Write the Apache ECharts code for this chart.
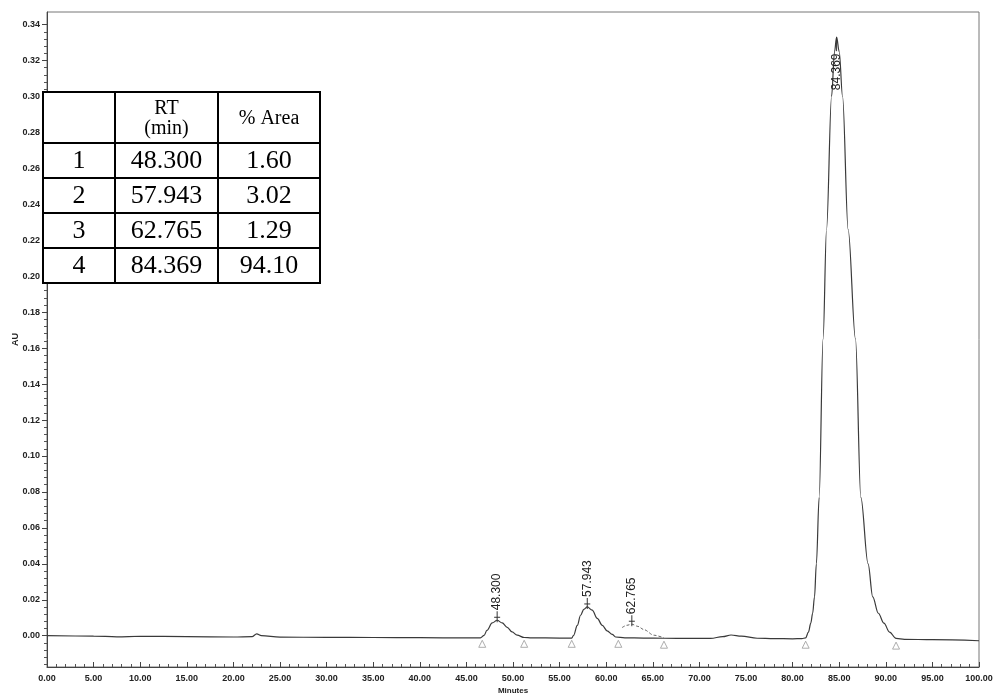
<!DOCTYPE html>
<html>
<head>
<meta charset="utf-8">
<script src="https://cdn.jsdelivr.net/npm/echarts@6/dist/echarts.min.js"></script>
<style>
  html, body { margin: 0; padding: 0; background: #fff; }
  #chart { width: 994px; height: 697px; }
</style>
</head>
<body>
<div id="chart"></div>
<script>
// ---- data ----
var traceMinutes = [0, 5, 7.5, 10, 15, 20, 22, 22.5, 23, 25, 30, 35, 40, 45, 46.5,
  46.9, 47.2, 47.77, 48.3, 48.84, 49.38, 49.9, 50.45, 51.2, 52, 55, 56.3,
  56.5, 56.9, 57.25, 57.6, 57.97, 58.5, 59.04, 59.58, 60.1, 60.65, 61.0, 62, 64, 66.2,
  69, 71.2, 72.5, 73.4, 74.5, 76.2, 78, 80, 81.0, 81.4,
  81.7, 81.95, 82.15, 82.35, 82.55, 82.85, 83.27, 83.64, 84.18, 84.5, 84.72, 85.0, 85.36,
  85.96, 86.75, 87.32, 88.1, 88.6, 89.2, 89.8, 90.4, 91.1, 92, 95, 100];
var traceAU = [0.0000, -0.0002, -0.0006, -0.0003, -0.0005, -0.0007, -0.0005, 0.0010, 0.0000, -0.0008, -0.0009, -0.0010, -0.0011, -0.0012, -0.0012,
  0.0002, 0.0030, 0.0071, 0.0086, 0.0071, 0.0046, 0.0021, 0.0003, -0.0010, -0.0012, -0.0013, -0.0013,
  0.0002, 0.0058, 0.0114, 0.0147, 0.0160, 0.0142, 0.0096, 0.0058, 0.0027, 0.0007, -0.0007, -0.0012, -0.0013, -0.0014,
  -0.0015, -0.0015, -0.0005, 0.0004, -0.0002, -0.0014, -0.0016, -0.0017, -0.0016, -0.0012,
  0.0020, 0.0070, 0.0125, 0.0216, 0.0400, 0.0770, 0.1650, 0.2260, 0.3000, 0.3250, 0.3330, 0.3250, 0.3000,
  0.2260, 0.1650, 0.0770, 0.0400, 0.0216, 0.0125, 0.0070, 0.0020, -0.0015, -0.0020, -0.0022, -0.0028];

// third peak, drawn dashed in the reference
var peak3Minutes = [61.7, 62.2, 62.75, 63.4, 64.05, 65.1, 66.2];
var peak3AU = [0.0045, 0.0058, 0.0064, 0.0052, 0.0034, 0.0003, -0.0012];

// integration event markers
var eventMinutes = [46.7, 51.2, 56.3, 61.3, 66.2, 81.4, 91.1];
var eventAU = [-0.0045, -0.0045, -0.0045, -0.0045, -0.0050, -0.0050, -0.0055];

// peak labels (apex positions and retention time text)
var labelMinutes = [48.3, 57.97, 62.75, 84.72];
var labelAU = [0.0086, 0.0160, 0.0064, 0.3330];
var peakNo = ['1', '2', '3', '4'];
var peakRT = ['48.300', '57.943', '62.765', '84.369'];
var peakArea = ['1.60', '3.02', '1.29', '94.10'];
var tableHeader = ['', 'RT\n(min)', '% Area'];

var yTickValues = [0, 0.02, 0.04, 0.06, 0.08, 0.10, 0.12, 0.14, 0.16, 0.18, 0.20, 0.22, 0.24, 0.26, 0.28, 0.30, 0.32, 0.34];
var yMin = -0.0174, yMax = 0.347;

// ---- build ----
function zip(a, b) { return a.map(function (v, i) { return [v, b[i]]; }); }

var yMinorTicks = [];
for (var k = 0; k < 90; k++) {
  var v = Math.round((-0.016 + k * 0.004) * 10000) / 10000;
  if (v >= yMin && v <= yMax && yTickValues.indexOf(v) < 0) yMinorTicks.push(v);
}

var chart = echarts.init(document.getElementById('chart'), null, { renderer: 'canvas' });

var labelFont = '"Liberation Sans", Arial, sans-serif';
var tableFont = '"Liberation Serif", "Times New Roman", serif';

// table graphic
var tbl = { colX: [43, 115, 218, 320], rowY: [92, 143, 178, 213, 248, 283] };
var graphics = [];
graphics.push({ type: 'rect', z: 100, shape: { x: tbl.colX[0], y: tbl.rowY[0], width: tbl.colX[3] - tbl.colX[0], height: tbl.rowY[5] - tbl.rowY[0] },
  style: { fill: '#fff', stroke: '#000', lineWidth: 2 } });
for (var c = 1; c < 3; c++) {
  graphics.push({ type: 'line', z: 101, shape: { x1: tbl.colX[c], y1: tbl.rowY[0], x2: tbl.colX[c], y2: tbl.rowY[5] }, style: { stroke: '#000', lineWidth: 2 } });
}
for (var r = 1; r < 5; r++) {
  graphics.push({ type: 'line', z: 101, shape: { x1: tbl.colX[0], y1: tbl.rowY[r], x2: tbl.colX[3], y2: tbl.rowY[r] }, style: { stroke: '#000', lineWidth: 2 } });
}
for (var c2 = 0; c2 < 3; c2++) {
  graphics.push({ type: 'text', z: 102, x: (tbl.colX[c2] + tbl.colX[c2 + 1]) / 2, y: (tbl.rowY[0] + tbl.rowY[1]) / 2 + 1,
    style: { text: tableHeader[c2], font: '20px ' + tableFont, lineHeight: 20, align: 'center', verticalAlign: 'middle', fill: '#000' } });
}
var cols = [peakNo, peakRT, peakArea];
for (var rr = 0; rr < 4; rr++) {
  for (var cc = 0; cc < 3; cc++) {
    graphics.push({ type: 'text', z: 102, x: (tbl.colX[cc] + tbl.colX[cc + 1]) / 2, y: (tbl.rowY[rr + 1] + tbl.rowY[rr + 2]) / 2 + 1,
      style: { text: cols[cc][rr], font: '26px ' + tableFont, align: 'center', verticalAlign: 'middle', fill: '#000' } });
  }
}

var gridTop = 12;

var option = {
  animation: false,
  backgroundColor: '#fff',
  grid: { left: 47, right: 15, top: gridTop, bottom: 30, containLabel: false, outerBoundsMode: 'none',
    show: true, borderColor: '#777', borderWidth: 1, backgroundColor: 'transparent' },
  xAxis: {
    type: 'value', min: 0, max: 100, interval: 5,
    axisLine: { onZero: false, lineStyle: { color: '#444', width: 1 } },
    axisTick: { inside: true, length: 5, lineStyle: { color: '#444' } },
    minorTick: { show: true, splitNumber: 5, length: 3, lineStyle: { color: '#555' } },
    splitLine: { show: false },
    axisLabel: { formatter: function (v) { return v.toFixed(2); }, fontSize: 9, color: '#222', margin: 7, fontFamily: labelFont, fontWeight: 'bold' },
    name: 'Minutes', nameLocation: 'middle', nameGap: 20, nameMoveOverlap: false,
    nameTextStyle: { fontSize: 8, fontWeight: 'bold', color: '#222', fontFamily: labelFont }
  },
  yAxis: [{
    type: 'value', min: yMin, max: yMax,
    axisLine: { show: true, onZero: false, lineStyle: { color: '#444', width: 1 } },
    axisTick: { show: true, length: 5, customValues: yTickValues, lineStyle: { color: '#444' } },
    splitLine: { show: false },
    axisLabel: { customValues: yTickValues, formatter: function (v) { return v.toFixed(2); }, fontSize: 9, color: '#222', margin: 7, fontFamily: labelFont, fontWeight: 'bold' },
    name: 'AU', nameLocation: 'middle', nameGap: 27, nameMoveOverlap: false,
    nameTextStyle: { fontSize: 9, fontWeight: 'bold', color: '#222', fontFamily: labelFont }
  }, {
    type: 'value', min: yMin, max: yMax, position: 'left',
    axisLine: { show: false, onZero: false },
    axisTick: { show: true, length: 3, customValues: yMinorTicks, lineStyle: { color: '#555' } },
    axisLabel: { show: false },
    splitLine: { show: false }
  }],
  graphic: graphics,
  series: [{
    name: 'trace', type: 'line', data: zip(traceMinutes, traceAU),
    showSymbol: false, smooth: 0.35, smoothMonotone: 'x',
    lineStyle: { color: '#3a3a3a', width: 1.2 }, z: 3
  }, {
    name: 'peak3', type: 'line', data: zip(peak3Minutes, peak3AU),
    showSymbol: false, smooth: 0.3, smoothMonotone: 'x',
    lineStyle: { color: '#666', width: 1, type: [3, 2] }, z: 3
  }, {
    name: 'events', type: 'scatter', data: zip(eventMinutes, eventAU),
    symbol: 'triangle', symbolSize: 7,
    itemStyle: { color: '#fff', borderColor: '#9a9a9a', borderWidth: 1 }, z: 2
  }, {
    name: 'labels', type: 'custom', clip: false, z: 5,
    data: labelMinutes.map(function (m, i) { return [m, labelAU[i], i]; }),
    renderItem: function (params, api) {
      var pt = api.coord([api.value(0), api.value(1)]);
      var idx = api.value(2);
      var txt = peakRT[idx];
      var textLen = 38;
      var above = pt[1] - 10 - textLen > gridTop + 2;
      var children = [];
      if (above) {
        children.push({ type: 'line', shape: { x1: pt[0], y1: pt[1] + 2, x2: pt[0], y2: pt[1] - 9 }, style: { stroke: '#333', lineWidth: 1 } });
        children.push({ type: 'line', shape: { x1: pt[0] - 3, y1: pt[1] - 3, x2: pt[0] + 3, y2: pt[1] - 3 }, style: { stroke: '#333', lineWidth: 1 } });
        children.push({ type: 'text', x: pt[0], y: pt[1] - 10, rotation: Math.PI / 2,
          style: { text: txt, font: '12px ' + labelFont, align: 'left', verticalAlign: 'middle', fill: '#222' } });
      } else {
        children.push({ type: 'line', shape: { x1: pt[0], y1: pt[1], x2: pt[0], y2: pt[1] + 14 }, style: { stroke: '#333', lineWidth: 1 } });
        children.push({ type: 'text', x: pt[0], y: pt[1] + 15 + textLen, rotation: Math.PI / 2,
          style: { text: txt, font: '12px ' + labelFont, align: 'left', verticalAlign: 'middle', fill: '#222' } });
      }
      return { type: 'group', children: children };
    }
  }]
};
chart.setOption(option);
</script>
</body>
</html>
